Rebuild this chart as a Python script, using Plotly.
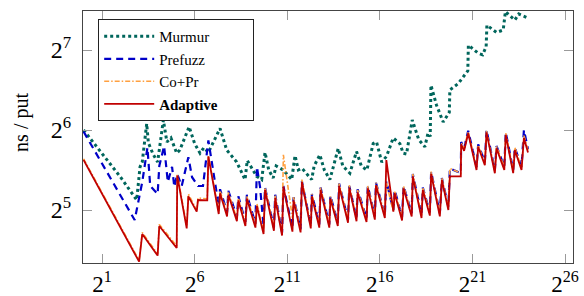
import numpy as np
import plotly.graph_objects as go

# values (log2 of elements, log2 of ns/put)
murmur_log2_n = [0,1,2,2.87,3.05,3.17,3.41,3.5,3.75,4.0,4.31,4.5,4.72,5.03,5.2,5.7,6.0,6.29,6.5,6.74,
                 7.37,7.73,8.27,8.72,8.84,9.35,9.62,9.8,10.0,10.24,10.4,10.78,11.24,11.42,11.6,11.8,12.32,12.45,12.76,13.0,
                 13.3,13.5,13.75,14.0,14.38,14.74,15.0,15.3,15.64,15.82,16.1,16.36,16.72,17.08,17.26,17.44,17.75,18.1,18.43,18.6,
                 18.72,18.76,19.06,19.42,19.75,19.78,20.23,20.75,20.78,21.31,21.55,21.74,21.78,22.3,22.66,22.78,23.29,23.5,23.83,24.0]
murmur_log2_ns = [6.0,5.7,5.41,5.125,5.54,5.6,6.08,5.84,5.7,5.6,6.125,5.85,5.9,5.71,5.75,6.04,5.83,5.71,5.78,5.72,
                  6.02,5.75,5.6,5.38,5.62,5.42,5.38,5.72,5.5,5.4,5.55,5.5,5.38,5.68,5.5,5.52,5.38,5.55,5.69,5.5,
                  5.38,5.55,5.77,5.55,5.46,5.73,5.55,5.5,5.83,5.85,5.6,5.67,5.9,5.83,5.71,5.7,6.125,5.88,5.79,5.96,
                  5.92,6.56,6.31,6.1,6.22,6.5,6.58,6.74,7.06,6.96,6.94,7.04,7.31,7.22,7.25,7.48,7.375,7.45,7.42,7.4]

prefuzz_log2_n = [0,1,2,2.76,3.17,3.45,3.6,4.0,4.09,4.35,4.55,4.78,4.9,5.06,5.3,5.66,5.86,6.18,6.45,6.74,7.3,7.37,
                  7.75,7.82,8.28,8.36,8.74,8.82,9.28,9.36,9.53,9.72,9.8,10.28,10.35,10.72,10.79,11.28,11.34,11.72,11.79,
                  12.27,12.33,12.73,12.8,13.27,13.33,13.73,13.8,14.28,14.35,14.74,14.8,15.28,15.35,15.73,15.79,
                  16.27,16.35,16.73,16.8,17.2,17.28,17.72,17.78,18.25,18.32,18.7,18.77,19.24,19.35,19.7,19.78,
                  20.37,20.39,20.55,20.77,21.22,21.31,21.67,21.76,22.21,22.3,22.72,22.8,23.2,23.29,23.65,23.78,24.0]
prefuzz_log2_ns = [5.98,5.585,5.19,4.875,5.35,5.78,5.3,5.2,5.55,5.8,5.35,5.54,5.29,5.45,5.3,5.66,5.41,5.3,5.3,5.87,5.05,5.26,
                   4.97,5.24,4.91,5.17,4.85,5.19,4.83,5.54,5.29,4.8,5.28,4.78,5.19,4.72,5.3,4.77,5.16,4.76,5.36,
                   4.81,5.2,4.82,5.28,4.82,5.18,4.84,5.33,4.88,5.3,4.9,5.26,4.89,5.3,4.92,5.34,
                   4.94,5.36,5.0,5.25,4.91,5.3,4.96,5.45,4.94,5.28,4.97,5.48,4.96,5.4,5.04,5.52,
                   5.46,5.85,5.77,5.99,5.54,5.82,5.6,6.0,5.5,5.8,5.54,5.97,5.5,5.78,5.54,6.0,5.76]

adaptive_log2_n = [0,1,2,3,3.17,4.0,4.09,5.03,5.06,5.57,5.66,6.11,6.18,6.68,6.74,7.3,7.37,7.75,7.82,8.28,8.36,
                   8.74,8.82,9.28,9.36,9.72,9.8,10.28,10.35,10.72,10.79,11.28,11.34,11.72,11.79,12.27,12.33,
                   12.73,12.8,13.27,13.33,13.73,13.8,14.28,14.35,14.74,14.8,15.28,15.35,15.73,15.79,16.27,16.35,
                   16.73,16.8,17.2,17.28,17.72,17.78,18.25,18.32,18.7,18.77,19.24,19.35,19.7,19.78,20.37,20.39,
                   20.55,20.77,21.22,21.31,21.67,21.76,22.21,22.3,22.72,22.8,23.2,23.29,23.65,23.78,24.0]
adaptive_log2_ns = [5.625,5.2,4.78,4.354,4.70,4.43,4.80,4.525,5.43,4.77,5.17,4.98,5.125,5.12,5.67,4.95,5.21,4.92,5.19,4.86,5.12,
                    4.80,5.14,4.78,5.05,4.70,5.25,4.74,5.15,4.68,5.29,4.73,5.12,4.72,5.35,4.77,5.17,
                    4.78,5.25,4.78,5.14,4.80,5.3,4.84,5.28,4.86,5.22,4.85,5.27,4.88,5.31,4.9,5.625,
                    4.98,5.21,4.87,5.27,4.92,5.42,4.9,5.25,4.93,5.45,4.92,5.375,5.0,5.42,5.42,5.82,
                    5.74,5.96,5.5,5.79,5.56,5.97,5.46,5.77,5.5,5.94,5.46,5.75,5.5,5.9,5.72]

copr_log2_n = adaptive_log2_n
copr_log2_ns = [5.64,5.22,4.8,4.37,4.72,4.45,4.82,4.55,5.45,4.8,5.2,5.0,5.15,5.14,5.68,4.98,5.24,4.95,5.22,4.89,5.15,
                4.83,5.17,4.81,5.08,4.73,5.28,4.77,5.18,4.71,5.69,4.9,5.16,4.75,5.38,4.8,5.2,
                4.81,5.28,4.81,5.17,4.83,5.33,4.87,5.31,4.89,5.25,4.88,5.3,4.91,5.34,4.93,5.34,
                4.98,5.24,4.9,5.3,4.95,5.45,4.93,5.28,4.96,5.48,4.95,5.4,5.03,5.52,5.46,5.84,
                5.77,5.98,5.53,5.81,5.59,5.99,5.49,5.8,5.53,5.96,5.49,5.78,5.53,5.93,5.75]

x_tick_exp = [1, 6, 11, 16, 21, 26]
y_tick_exp = [5, 6, 7]

series = [
    ("Murmur", murmur_log2_n, murmur_log2_ns, "#00665c", 3, "dot"),
    ("Prefuzz", prefuzz_log2_n, prefuzz_log2_ns, "#0000c8", 2.2, "7px,5px"),
    ("Co+Pr", copr_log2_n, copr_log2_ns, "#ffa040", 1.6, "5px,2px,1.5px,2px"),
    ("<b>Adaptive</b>", adaptive_log2_n, adaptive_log2_ns, "#c00000", 1.8, "solid"),
]

FONT = "Liberation Serif"
fig = go.Figure()
for name, xn, yn, col, w, dash in series:
    fig.add_trace(go.Scatter(
        x=np.power(2.0, xn), y=np.power(2.0, yn), mode="lines", name=name + "\u00a0" * 8,
        line=dict(color=col, width=w, dash=dash),
    ))

fig.update_layout(
    width=584, height=296,
    margin=dict(l=83, r=11, t=11, b=33, autoexpand=False),
    paper_bgcolor="white", plot_bgcolor="white",
    showlegend=True,
    legend=dict(x=0.031, y=0.968, xanchor="left", yanchor="top",
                bgcolor="white", bordercolor="#222", borderwidth=1,
                font=dict(family=FONT, size=15, color="black"),
                itemwidth=50, tracegroupgap=0),
    font=dict(family=FONT, color="black"),
)
axis_common = dict(type="log", showgrid=False, zeroline=False, showline=True, automargin=False,
                   linecolor="#444", linewidth=1, mirror="ticks", ticks="inside",
                   ticklen=9, tickcolor="#9a9a9a", tickwidth=1)
fig.update_xaxes(range=[np.log10(2 ** -0.03), np.log10(2 ** 26.43)],
                 tickvals=[2.0 ** e for e in x_tick_exp], ticklabelstandoff=0,
                 tickfont=dict(family=FONT, size=23, color="black"),
                 ticktext=[f"2<sup>{e}</sup>" for e in x_tick_exp], **axis_common)
fig.update_yaxes(range=[np.log10(2 ** 4.3375), np.log10(2 ** 7.4875)],
                 tickvals=[2.0 ** e for e in y_tick_exp], ticklabelstandoff=6,
                 tickfont=dict(family=FONT, size=24, color="black"),
                 ticktext=[f"2<sup>{e}</sup>" for e in y_tick_exp], **axis_common)
fig.add_annotation(text="ns / put", textangle=-90, xref="paper", yref="paper",
                   x=-0.1245, y=0.56, xanchor="center", yanchor="middle", showarrow=False,
                   font=dict(family=FONT, size=20, color="black"))
fig.write_html("out.html", config={"displayModeBar": False},
               post_script="document.body.style.margin='0';document.body.style.overflow='hidden';")
